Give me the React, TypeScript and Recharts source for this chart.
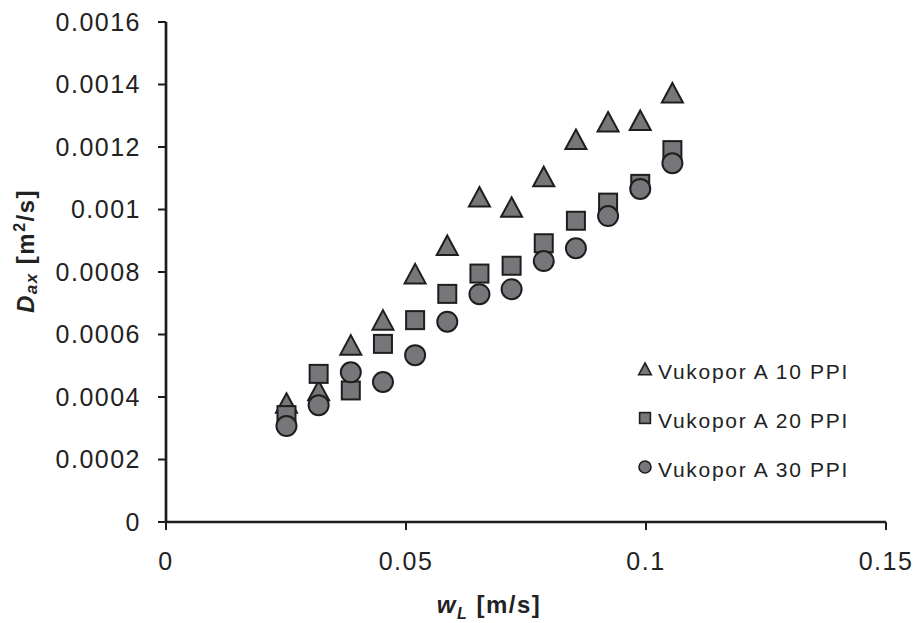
import React from 'react';
import { ScatterChart, Scatter, XAxis, YAxis, Label } from 'recharts';

// flow velocity w_L [m/s]
const wL = [0.0251, 0.0318, 0.0385, 0.0452, 0.0519, 0.0586, 0.0653, 0.072, 0.0787, 0.0854, 0.0921, 0.0988, 0.1055];
// axial dispersion D_ax [m2/s]
const ppi10 = [0.00038, 0.00042, 0.000566, 0.000646, 0.000794, 0.000885, 0.00104, 0.001007, 0.001105, 0.001224, 0.00128, 0.001285, 0.001373];
const ppi20 = [0.000342, 0.000474, 0.000421, 0.00057, 0.000646, 0.00073, 0.000795, 0.00082, 0.000892, 0.000964, 0.001022, 0.001082, 0.00119];
const ppi30 = [0.000307, 0.000374, 0.000479, 0.000448, 0.000534, 0.000641, 0.000729, 0.000745, 0.000835, 0.000876, 0.000979, 0.001066, 0.001148];

const xTicks = [0, 0.05, 0.1, 0.15];
const yTicks = [0, 0.0002, 0.0004, 0.0006, 0.0008, 0.001, 0.0012, 0.0014, 0.0016];
const seriesNames = ['Vukopor A 10 PPI', 'Vukopor A 20 PPI', 'Vukopor A 30 PPI'];

const FILL = '#76767b';
const STROKE = '#1e1e1e';
const TEXT = '#222';
const FONT = '"Liberation Sans", Arial, sans-serif';

const toPoints = (ys: number[]) => wL.map((x, i) => ({ x, y: ys[i] }));

const drawMarker = (kind: string, cx: number, cy: number, s: number, sw = 2) => {
  if (kind === 'triangle') {
    const h = s / 2;
    return (
      <polygon
        points={`${cx},${cy - h} ${cx + h * 1.05},${cy + h * 0.95} ${cx - h * 1.05},${cy + h * 0.95}`}
        fill={FILL}
        stroke={STROKE}
        strokeWidth={sw}
      />
    );
  }
  if (kind === 'square') {
    const h = s * 0.45;
    return <rect x={cx - h} y={cy - h} width={h * 2} height={h * 2} fill={FILL} stroke={STROKE} strokeWidth={sw} />;
  }
  return <circle cx={cx} cy={cy} r={s / 2} fill={FILL} stroke={STROKE} strokeWidth={sw} />;
};

const markerKinds = ['triangle', 'square', 'circle'];

const shapeFor = (kind: string) => (props: any) => drawMarker(kind, props.cx, props.cy, 20);

const XTitle = () => (
  <text x={489} y={613} textAnchor="middle" fontFamily={FONT} fontSize={24} fontWeight="bold" letterSpacing={1.5} fill={TEXT}>
    <tspan fontStyle="italic">w</tspan>
    <tspan fontStyle="italic" fontSize={16} dy={6}>L</tspan>
    <tspan dy={-6}> [m/s]</tspan>
  </text>
);

const YTitle = () => (
  <text
    x={0}
    y={0}
    transform="translate(34, 251) rotate(-90)"
    textAnchor="middle"
    fontFamily={FONT}
    fontSize={24}
    fontWeight="bold"
    letterSpacing={1.5}
    fill={TEXT}
  >
    <tspan fontStyle="italic">D</tspan>
    <tspan fontStyle="italic" fontSize={17} dy={3}>ax</tspan>
    <tspan dy={-3}> [m</tspan>
    <tspan fontSize={16} dy={-9}>2</tspan>
    <tspan dy={9}>/s]</tspan>
  </text>
);

const tickStyle = { fill: TEXT, fontSize: 25, fontFamily: FONT, letterSpacing: 1.5 };

export default function App() {
  const datasets = [ppi10, ppi20, ppi30];
  return (
    <div style={{ position: 'absolute', left: 0, top: 0, background: '#fff' }}>
      <ScatterChart width={916} height={623} margin={{ top: 22, right: 30, bottom: 41, left: 0 }}>
        <XAxis
          type="number"
          dataKey="x"
          domain={[0, 0.15]}
          ticks={xTicks}
          height={60}
          axisLine={{ stroke: STROKE, strokeWidth: 2.7 }}
          tickLine={{ stroke: STROKE, strokeWidth: 2 }}
          tickSize={8}
          tickMargin={22}
          tick={tickStyle}
          allowDataOverflow
        >
          <Label content={XTitle} />
        </XAxis>
        <YAxis
          type="number"
          dataKey="y"
          domain={[0, 0.0016]}
          ticks={yTicks}
          width={166}
          axisLine={{ stroke: STROKE, strokeWidth: 2.7 }}
          tickLine={{ stroke: STROKE, strokeWidth: 2 }}
          tickSize={8}
          tickMargin={17}
          tickFormatter={(v: number) => String(v)}
          tick={tickStyle}
          allowDataOverflow
        >
          <Label content={YTitle} />
        </YAxis>
        {datasets.map((ys, i) => (
          <Scatter
            key={seriesNames[i]}
            name={seriesNames[i]}
            data={toPoints(ys)}
            shape={shapeFor(markerKinds[i])}
            isAnimationActive={false}
          />
        ))}
      </ScatterChart>
      <svg width={260} height={140} style={{ position: 'absolute', left: 630, top: 350 }}>
        {seriesNames.map((name, i) => (
          <g key={name}>
            {drawMarker(markerKinds[i], 15, 19 + i * 49, 12, 1.6)}
            <text x={28} y={29 + i * 49} fontFamily={FONT} fontSize={21} letterSpacing={1.7} fill={TEXT}>
              {name}
            </text>
          </g>
        ))}
      </svg>
    </div>
  );
}
